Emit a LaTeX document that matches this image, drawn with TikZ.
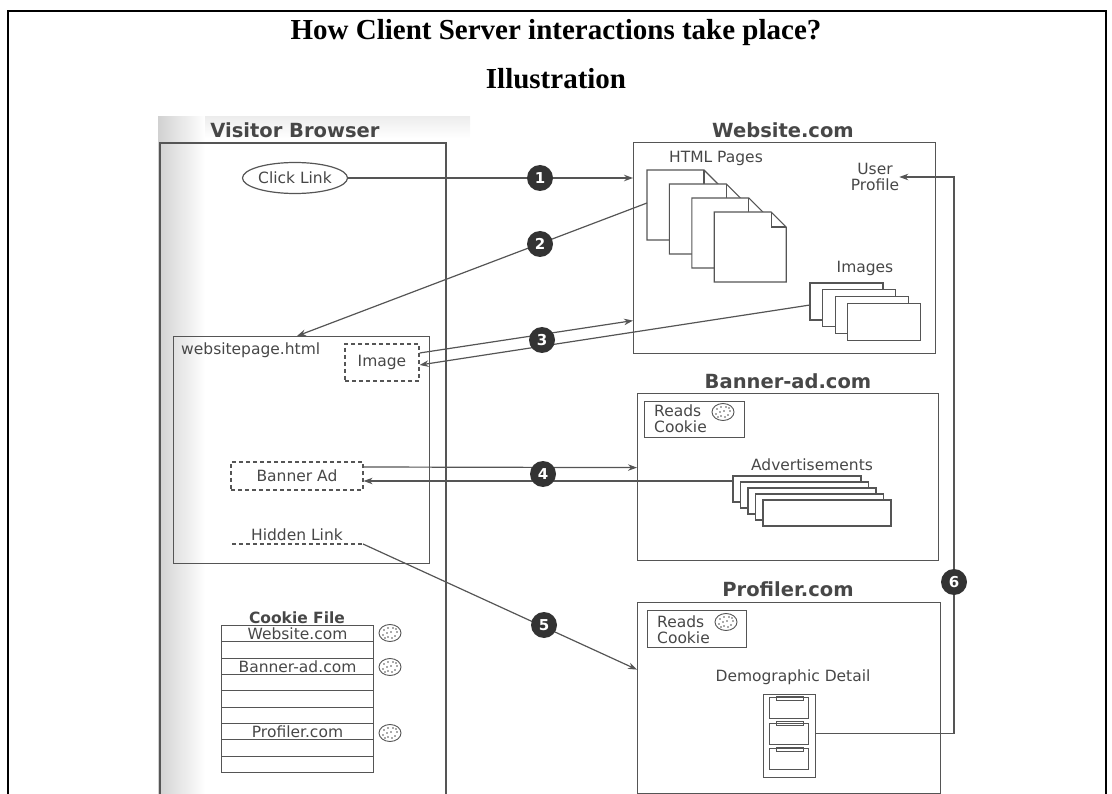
\documentclass[tikz,border=0pt]{standalone}
\usepackage{fontspec}
\setmainfont{Liberation Serif}
\newfontfamily\figfont{DejaVu Sans}
\usetikzlibrary{arrows.meta,shapes.geometric}
\definecolor{ink}{HTML}{474747}
\definecolor{wire}{HTML}{555555}
\definecolor{badge}{HTML}{333333}

\tikzset{
  lbl/.style={font=\figfont\fontsize{15.5}{16}\selectfont, text=ink, inner sep=0pt},
  hdr/.style={font=\figfont\bfseries\fontsize{19.5}{22}\selectfont, text=ink, inner sep=0pt},
  outline/.style={draw=wire, line width=1.2pt},
  panel/.style={outline, rectangle, inner sep=0pt, anchor=north west},
  dashbox/.style={draw=wire, line width=1.2pt, dash pattern=on 4pt off 3pt, rectangle},
  flow/.style={draw=wire, line width=1.2pt},
  flowarrow/.style={flow, -{Stealth[length=9pt,width=6.5pt]}},
  badgedot/.style={circle, fill=badge, text=white, inner sep=0pt, minimum size=26pt,
    font=\figfont\bfseries\fontsize{15}{15}\selectfont},
  sheet/.style={draw=wire, line width=1.1pt, fill=white},
  % a cookie: an oval with crumbs
  cookie/.pic={
    \draw[draw=wire, line width=0.9pt, fill=white] (0,0) ellipse [x radius=11, y radius=8.5];
    \foreach \p in {(-6,-3),(-2,-5),(3,-5),(7,-1),(-7,2),(-3,0),(1,-1),(5,3),(-2,4),(2,5),(6,-4),(-5,5)}
      \fill[wire] \p circle (0.9);
  },
  % an HTML document with a folded corner
  htmlpage/.pic={
    \draw[sheet] (0,0) -- (57,0) -- (72,15) -- (72,70) -- (0,70) -- cycle;
    \draw[draw=wire, line width=1.1pt] (57,0) -- (57,15) -- (72,15);
  }
}

\begin{document}
\begin{tikzpicture}[x=1pt,y=-1pt]
\useasboundingbox (0,0) rectangle (1112,794);

% shadow along the edge of the scanned sheet
\shade[left color=black!18, right color=white] (158,117) rectangle (205,794);
\shade[top color=black!7, bottom color=white] (205,117) rectangle (470,138);

% page frame
\draw[line width=2pt] (8,794) -- (8,11) -- (1106,11) -- (1106,794);

% title
\node[font=\rmfamily\bfseries\fontsize{29}{34}\selectfont, anchor=base] (title) at (556,40)
  {How Client Server interactions take place?};
\node[font=\rmfamily\bfseries\fontsize{29}{34}\selectfont, anchor=base] (subtitle) at (556,89)
  {Illustration};

% ---------------- visitor browser ----------------
\node[hdr] (browserhdr) at (295,130) {Visitor Browser};
\draw[outline] (160,794) -- (160,143) -- (446,143) -- (446,794);

\node[ellipse, draw=wire, line width=1.2pt, minimum width=105pt, minimum height=31pt, lbl]
  (click) at (295,178) {Click Link};

\node[panel, minimum width=256pt, minimum height=227pt] (pagebox) at (173,336) {};
\node[lbl, anchor=west] (pagename) at (181,350) {websitepage.html};
\node[dashbox, lbl, minimum width=74pt, minimum height=37pt] (imgslot) at (382,362.5) {Image};
\node[dashbox, lbl, minimum width=132pt, minimum height=28pt] (adslot) at (297,476) {Banner Ad};
\node[lbl] (hidden) at (297,535) {Hidden Link};
\draw[outline, dash pattern=on 4pt off 3pt] (232,544) coordinate (hiddenA) -- (363,544) coordinate (hiddenB);

% cookie file
\node[hdr, font=\figfont\bfseries\fontsize{15.5}{17}\selectfont] (cookiehdr) at (297,618) {Cookie File};
\foreach \i in {0,...,8}
  \node[panel, line width=1pt, minimum width=152pt, minimum height=16.33pt] (row\i) at (221,{625+16.33*\i}) {};
\node[lbl] (cfweb) at (row0) {Website.com};
\node[lbl] (cfban) at (row2) {Banner-ad.com};
\node[lbl] (cfprof) at (row6) {Profiler.com};
\pic at (390,633) {cookie};
\pic at (390,667) {cookie};
\pic at (390,733) {cookie};

% ---------------- website.com ----------------
\node[hdr] (webhdr) at (783,130) {Website.com};
\node[panel, minimum width=302pt, minimum height=211pt] (web) at (633,142) {};
\node[lbl] (htmlhdr) at (716,158) {HTML Pages};
\foreach \k in {0,...,3}
  \pic at ({647+22.4*\k},{170+14*\k}) {htmlpage};
\coordinate (pagefront) at (647,203);
\node[lbl, align=center] (profile) at (875,177) {User\\Profile};
\node[lbl] (imageshdr) at (865,268) {Images};
\foreach \k in {0,...,3}
  \draw[sheet] ({810+12.6*\k},{283+6.7*\k}) rectangle ++(73,37);
\coordinate (imgfront) at (810,305);

% ---------------- banner-ad.com ----------------
\node[hdr] (bannerhdr) at (788,381) {Banner-ad.com};
\node[panel, minimum width=301pt, minimum height=167pt] (banner) at (637,393) {};
\node[panel, minimum width=100pt, minimum height=36pt] (breads) at (644,401) {};
\node[lbl, anchor=base west] (breadsA) at (654,417) {Reads};
\node[lbl, anchor=base west] (breadsB) at (654,433) {Cookie};
\pic at (723,412) {cookie};
\node[lbl] (adshdr) at (812,465) {Advertisements};
\foreach \k in {0,...,4}
  \draw[sheet] ({733+7.5*\k},{476+6*\k}) rectangle ++(128,26);
\coordinate (adfront) at (733,481);

% ---------------- profiler.com ----------------
\node[hdr] (profhdr) at (788,589) {Profiler.com};
\node[panel, minimum width=303pt, minimum height=191pt] (prof) at (637,602) {};
\node[panel, minimum width=99pt, minimum height=37pt] (preads) at (647,610) {};
\node[lbl, anchor=base west] (preadsA) at (657,627) {Reads};
\node[lbl, anchor=base west] (preadsB) at (657,643) {Cookie};
\pic at (726,622) {cookie};
\node[lbl] (demo) at (793,677) {Demographic Detail};
\node[panel, minimum width=52pt, minimum height=83pt] (cabinet) at (763,694) {};
\node[panel, line width=1pt, minimum width=39pt, minimum height=21pt] (drawer1) at (769,697) {};
\node[panel, line width=1pt, minimum width=39pt, minimum height=21pt] (drawer2) at (769,722.5) {};
\node[panel, line width=1pt, minimum width=39pt, minimum height=21pt] (drawer3) at (769,748) {};
\foreach \d in {1,2,3}
  \draw[outline, line width=0.9pt] ([xshift=7pt,yshift=-3pt]drawer\d.north west) rectangle ++(27,-4);

% ---------------- message flows ----------------
\draw[flowarrow] (click.east) -- (click.east -| web.west);
\draw[flowarrow] (pagefront) -- ([xshift=124pt]pagebox.north west);
\draw[flowarrow] ([yshift=9.5pt]imgslot.east) -- ([yshift=-72.5pt]web.west);
\draw[flowarrow] (imgfront) -- ([yshift=-2.5pt]imgslot.east);
\draw[flowarrow] ([yshift=9pt]adslot.east) -- ([yshift=9.5pt]banner.west);
\draw[flowarrow] (adfront) -- ([yshift=-5pt]adslot.east);
\draw[flowarrow] (hiddenB) -- ([yshift=28.5pt]prof.west);
\coordinate (rail) at (954,177);
\draw[flowarrow] (drawer2.center -| cabinet.east) -| (rail) -- (rail -| profile.east);

% step numbers
\node[badgedot] (n1) at (540,178) {1};
\node[badgedot] (n2) at (540,244) {2};
\node[badgedot] (n3) at (542,340) {3};
\node[badgedot] (n4) at (543,474) {4};
\node[badgedot] (n5) at (544,625) {5};
\node[badgedot] (n6) at (954,582) {6};
\end{tikzpicture}
\end{document}
